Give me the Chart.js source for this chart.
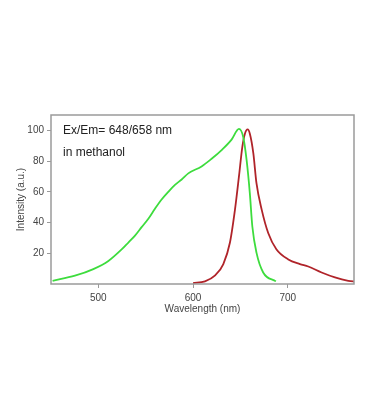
<!DOCTYPE html>
<html><head><meta charset="utf-8">
<script src="https://cdn.jsdelivr.net/npm/chart.js@4/dist/chart.umd.min.js"></script>
<style>html,body{margin:0;padding:0;background:#fff}#wrap{width:369px;height:420px}</style>
</head><body><div id="wrap"><canvas id="c" width="369" height="420"></canvas></div>
<script>
const excitationWl = [451.7,475.3,494.7,510.6,524.6,531.7,538.7,545.7,552.8,559.8,566.8,573.9,580.9,588,595,609,619.6,630.2,640.7,648.5,653,656.6,660,662.6,667,674.1,687.5];
const excitationI  = [2.1,5.4,9.7,15,22.5,27,31.5,37,42.5,49,55,60,64.5,68,72,76.5,81.5,87.2,94,101,95.7,80.6,59,37.6,20.4,7.5,1.7];
const emissionWl = [600,612.6,623,632,639,644.3,648.5,652,654.8,657.7,660,663.7,667,672.5,679.5,688,700.6,712.9,721.7,735.8,749.9,764,772];
const emissionI  = [0.6,1.7,5.4,13,27,48.4,70,89,97.8,100.6,97.8,85,65.6,48.4,33,22.6,16,13,11.4,7.5,4.3,2.1,1.5];
const xTicks = [500,600,700];
const yTicks = [20,40,60,80,100];
const annotationLines = ['Ex/Em= 648/658 nm','in methanol'];

const toPts = (xs, ys) => xs.map((x,i)=>({x, y: ys[i]}));
const font = "Liberation Sans, Arial, sans-serif";

const boxPlugin = {
  id: 'box',
  afterDraw(chart){
    const {ctx, chartArea:a} = chart;
    ctx.save();
    ctx.strokeStyle = '#9a9a9a'; ctx.lineWidth = 1.5;
    ctx.strokeRect(a.left, a.top, a.right-a.left, a.bottom-a.top);
    ctx.fillStyle = '#222';
    ctx.font = '12px ' + font;
    ctx.textBaseline = 'middle';
    ctx.fillText(annotationLines[0], a.left+12, a.top+16);
    ctx.fillText(annotationLines[1], a.left+12, a.top+38);
    ctx.restore();
  }
};

new Chart(document.getElementById('c'), {
  type: 'line',
  data: { datasets: [
    { data: toPts(excitationWl, excitationI), borderColor: '#3ddc3d', borderWidth: 1.8, pointRadius: 0, cubicInterpolationMode: 'monotone', fill: false },
    { data: toPts(emissionWl, emissionI), borderColor: '#b0242a', borderWidth: 1.8, pointRadius: 0, cubicInterpolationMode: 'monotone', fill: false }
  ]},
  options: {
    responsive: false, animation: false, devicePixelRatio: 1,
    layout: { padding: { left: 0, top: 115, right: 15, bottom: 105 } },
    plugins: { legend: { display: false }, tooltip: { enabled: false } },
    scales: {
      x: { type: 'linear', min: 450, max: 770,
        afterBuildTicks: s => { s.ticks = xTicks.map(v=>({value:v})); },
        afterFit: s => { s.height = 31; },
        grid: { drawOnChartArea: false, tickLength: 4, color: '#9a9a9a' },
        border: { display: false },
        ticks: { color: '#444', font: { size: 10, family: font }, padding: 4, maxRotation: 0 },
        title: { display: true, text: 'Wavelength (nm)', color: '#444', font: { size: 10, family: font }, padding: { top: 0, bottom: 0 } }
      },
      y: { min: 0, max: 110,
        afterBuildTicks: s => { s.ticks = yTicks.map(v=>({value:v})); },
        afterFit: s => { s.width = 51; },
        grid: { drawOnChartArea: false, tickLength: 4, color: '#9a9a9a' },
        border: { display: false },
        ticks: { color: '#444', font: { size: 10, family: font }, padding: 3 },
        title: { display: true, text: 'Intensity (a.u.)', color: '#444', font: { size: 10, family: font }, padding: { top: 15, bottom: 0 } }
      }
    }
  },
  plugins: [boxPlugin]
});
</script></body></html>
